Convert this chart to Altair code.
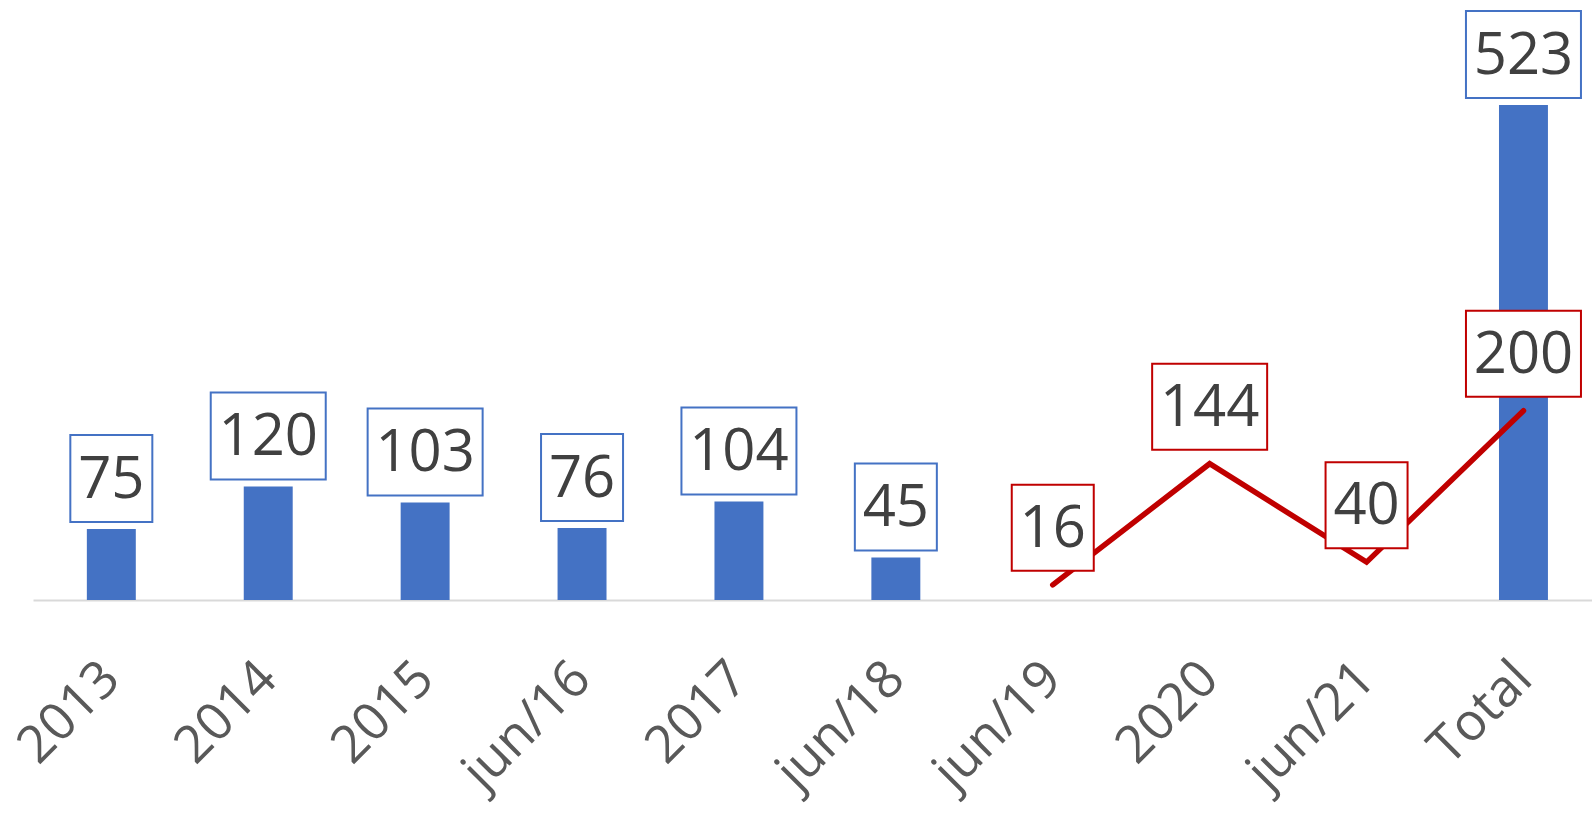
import altair as alt
import pandas as pd

# ---- data ----
categories = ["2013", "2014", "2015", "jun/16", "2017", "jun/18", "jun/19", "2020", "jun/21", "Total"]
bar_cats = ["2013", "2014", "2015", "jun/16", "2017", "jun/18", "Total"]
bar_values = [75, 120, 103, 76, 104, 45, 523]
line_cats = ["jun/19", "2020", "jun/21", "Total"]
line_values = [16, 144, 40, 200]

BLUE = "#4472C4"
RED = "#C00000"
FONT = "Open Sans"

R = 57.5  # symbol half-size for size = (2R)^2


def box_path(v, half_h):
    hw = 57.5 if v >= 100 else 41.0
    x = hw / R
    y = half_h / R
    return f"M{-x},{-y}L{x},{-y}L{x},{y}L{-x},{y}Z"


bars = pd.DataFrame({"cat": bar_cats, "value": bar_values})
bars["box"] = [box_path(v, 43.5) for v in bar_values]
bars["label"] = [str(v) for v in bar_values]

line = pd.DataFrame({"cat": line_cats, "value": line_values})
line["box"] = [box_path(v, 43.0) for v in line_values]
line["label"] = [str(v) for v in line_values]

xscale = alt.Scale(domain=categories, paddingInner=0.688, paddingOuter=0.312, align=0.55)
yscale = alt.Scale(domain=[0, 634])

x_enc = alt.X(
    "cat:N",
    scale=xscale,
    sort=categories,
    axis=alt.Axis(
        title=None,
        labelAngle=-45,
        labelAlign="right",
        labelBaseline="middle",
        labelFont=FONT,
        labelFontSize=52,
        labelColor="#595959",
        labelPadding=70,
        ticks=False,
        domainColor="#D9D9D9",
        domainWidth=2,
        grid=False,
    ),
)
y_enc = alt.Y("value:Q", scale=yscale, axis=None)

bar_layer = alt.Chart(bars).mark_bar(color=BLUE).encode(x=x_enc, y=y_enc)

line_layer = alt.Chart(line).mark_line(color=RED, strokeWidth=5.5, strokeCap="round", strokeJoin="miter").encode(
    x=x_enc, y=y_enc
)

bar_boxes = alt.Chart(bars).mark_point(
    filled=True, fill="white", stroke=BLUE, strokeWidth=2, size=(2 * R) ** 2, opacity=1, yOffset=-50.5
).encode(x=x_enc, y=y_enc, shape=alt.Shape("box:N", scale=None))

line_boxes = alt.Chart(line).mark_point(
    filled=True, fill="white", stroke=RED, strokeWidth=2, size=(2 * R) ** 2, opacity=1, yOffset=-57
).encode(x=x_enc, y=y_enc, shape=alt.Shape("box:N", scale=None))

bar_text = alt.Chart(bars).mark_text(
    font=FONT, fontSize=58, color="#404040", baseline="middle", align="center", yOffset=-48.5
).encode(x=x_enc, y=y_enc, text="label:N")

line_text = alt.Chart(line).mark_text(
    font=FONT, fontSize=58, color="#404040", baseline="middle", align="center", yOffset=-55
).encode(x=x_enc, y=y_enc, text="label:N")

chart = (
    alt.layer(bar_layer, line_layer, bar_boxes, line_boxes, bar_text, line_text)
    .properties(
        width=1559,
        height=600,
        padding={"left": 33, "top": 0, "right": 0, "bottom": 216},
        autosize=alt.AutoSizeParams(type="none"),
        background="white",
    )
    .configure_view(stroke=None)
)

chart.save("out.html", embed_options={"renderer": "svg", "actions": False})
